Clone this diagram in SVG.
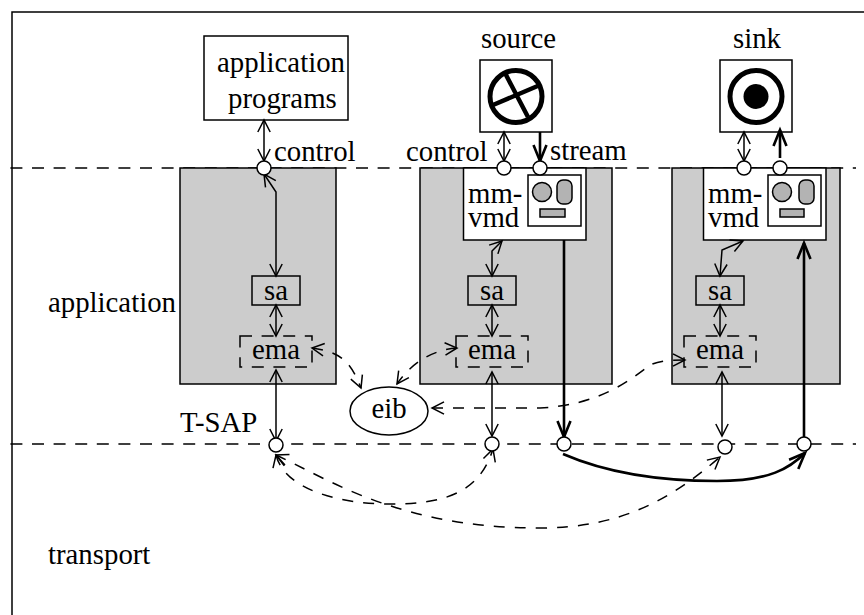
<svg xmlns="http://www.w3.org/2000/svg" width="864" height="615" viewBox="0 0 864 615">
<style>
text{font-family:"Liberation Serif","Times New Roman",serif;font-size:28.8px;fill:#000}
.m{text-anchor:middle}
.box{fill:#fff;stroke:#000;stroke-width:1.5}
.gray{fill:#ccc;stroke:#000;stroke-width:1.5}
.port{fill:#fff;stroke:#000;stroke-width:1.5}
.part{fill:#b3b3b3;stroke:#000;stroke-width:1.5}
.ema{fill:none;stroke:#000;stroke-width:1.5;stroke-dasharray:12 9.6}
.bus{fill:none;stroke:#000;stroke-width:1.5;stroke-dasharray:12 9.6}
.a{fill:none;stroke:#000;stroke-width:1.5;marker-start:url(#h);marker-end:url(#h)}
.d{fill:none;stroke:#000;stroke-width:1.5;stroke-dasharray:11 10}
.t{fill:none;stroke:#000;stroke-width:2.6;marker-end:url(#T)}
</style>
<defs>
<marker id="h" markerUnits="userSpaceOnUse" markerWidth="20" markerHeight="20" refX="14" refY="10" orient="auto-start-reverse"><path d="M2 3.800L14 10L2 16.200" fill="none" stroke="#000" stroke-width="1.5"/></marker>
<marker id="T" markerUnits="userSpaceOnUse" markerWidth="26" markerHeight="26" refX="17" refY="13" orient="auto"><path d="M1 6.500L17 13L1 19.500" fill="none" stroke="#000" stroke-width="2.600"/></marker>
</defs>
<path d="M12 615V12H864" fill="none" stroke="#000" stroke-width="1.5"/>
<path class="bus" d="M10.400 168H856M10.400 444H856"/>
<g id="app-area-1"><rect class="gray" x="180" y="168" width="156" height="216"/></g>
<g id="app-area-2"><rect class="gray" x="420" y="168" width="192" height="216"/></g>
<g id="app-area-3"><rect class="gray" x="672" y="168" width="168" height="216"/></g>
<g id="application-programs"><rect class="box" x="204" y="36" width="144" height="84"/><text x="217" y="72">application</text><text x="228" y="108">programs</text></g>
<g id="source"><text x="481" y="48">source</text><rect class="box" x="480" y="60" width="72" height="72"/><circle cx="516" cy="96.500" r="26" fill="none" stroke="#000" stroke-width="5"/><path d="M505 73L528 117M493 105L540 85" stroke="#000" stroke-width="4.5" fill="none"/></g>
<g id="sink"><text x="733" y="48">sink</text><rect class="box" x="720" y="60" width="72" height="72"/><circle cx="756" cy="96.500" r="26" fill="none" stroke="#000" stroke-width="5"/><circle cx="756" cy="96.500" r="12.500" fill="#000"/></g>
<g id="mmvmd-1"><rect class="box" x="463.500" y="168" width="122.500" height="72"/><text x="468" y="203">mm-</text><text x="468" y="227">vmd</text><rect class="box" x="528" y="175" width="53" height="51"/><circle class="part" cx="542" cy="192" r="9.500"/><rect class="part" x="557" y="180" width="15" height="24" rx="6"/><rect class="part" x="540" y="209" width="25" height="8"/></g>
<g id="mmvmd-2"><rect class="box" x="703.500" y="168" width="122.500" height="72"/><text x="708" y="203">mm-</text><text x="708" y="227">vmd</text><rect class="box" x="768" y="175" width="53" height="51"/><circle class="part" cx="782" cy="192" r="9.500"/><rect class="part" x="799" y="180" width="15" height="24" rx="6"/><rect class="part" x="780" y="209" width="24" height="8"/></g>
<g id="sa-1"><rect class="box gray" x="252" y="276" width="48" height="29"/><text class="m" x="276" y="300">sa</text></g>
<g id="sa-2"><rect class="box gray" x="468" y="276" width="48" height="29"/><text class="m" x="492" y="300">sa</text></g>
<g id="sa-3"><rect class="box gray" x="696" y="276" width="48" height="29"/><text class="m" x="720" y="300">sa</text></g>
<g id="ema-1"><rect class="ema" x="240" y="336" width="72" height="31"/><text class="m" x="276" y="359">ema</text></g>
<g id="ema-2"><rect class="ema" x="456" y="336" width="72" height="31"/><text class="m" x="492" y="359">ema</text></g>
<g id="ema-3"><rect class="ema" x="684" y="336" width="72" height="31"/><text class="m" x="720" y="359">ema</text></g>
<g id="eib"><ellipse cx="389" cy="411" rx="39" ry="24" fill="#fff" stroke="#000" stroke-width="1.5"/><text class="m" x="389" y="418">eib</text></g>
<g id="connectors">
<path class="a" d="M264 120V161"/>
<path class="a" d="M264 174L276 192V276"/>
<path class="a" d="M276 305V336"/>
<path class="a" d="M276 370V441"/>
<path class="a" d="M504 132V161"/>
<path class="t" d="M540 132V161"/>
<path class="a" d="M502 241L492 251V276"/>
<path class="a" d="M492 305V336"/>
<path class="a" d="M492 372V436"/>
<path class="t" d="M564 240V437"/>
<path class="a" d="M744 132V161"/>
<path class="t" d="M780 158V130"/>
<path class="a" d="M743 241L722 250L720 276"/>
<path class="a" d="M720 305V336"/>
<path class="a" d="M722 372V436"/>
<path class="t" d="M804 437V243"/>
<path class="t" d="M563 454C600 470 650 481 717 481C770 481 790 468 805 453"/>
<path class="d" marker-start="url(#h)" marker-end="url(#h)" d="M312 348C340 352 350 360 361 388"/>
<path class="d" marker-start="url(#h)" marker-end="url(#h)" d="M457 348C430 350 410 365 397 384"/>
<path class="d" marker-start="url(#h)" marker-end="url(#h)" d="M432 408H540C600 405 630 380 650 365C660 360 675 360 685 360"/>
<path class="d" marker-start="url(#h)" marker-end="url(#h)" d="M276 455C285 490 340 504 390 504C450 504 480 490 493 449"/>
<path class="d" marker-start="url(#h)" marker-end="url(#h)" d="M276 455C330 480 400 528 540 528C620 528 670 500 720 457"/>
</g>
<g id="ports">
<circle class="port" cx="264" cy="168" r="7"/><circle class="port" cx="504" cy="168" r="7"/><circle class="port" cx="540" cy="168" r="7"/><circle class="port" cx="744" cy="168" r="7"/><circle class="port" cx="780" cy="168" r="7"/>
<circle class="port" cx="276" cy="445" r="7"/><circle class="port" cx="492" cy="444" r="7"/><circle class="port" cx="564" cy="444" r="7"/><circle class="port" cx="725" cy="447" r="7"/><circle class="port" cx="804" cy="444" r="7"/>
</g>
<g id="labels">
<text x="274" y="161">control</text><text x="406" y="161">control</text><text x="550" y="160">stream</text>
<text x="48" y="312">application</text><text x="180" y="432">T-SAP</text><text x="48" y="564">transport</text>
</g>
</svg>
